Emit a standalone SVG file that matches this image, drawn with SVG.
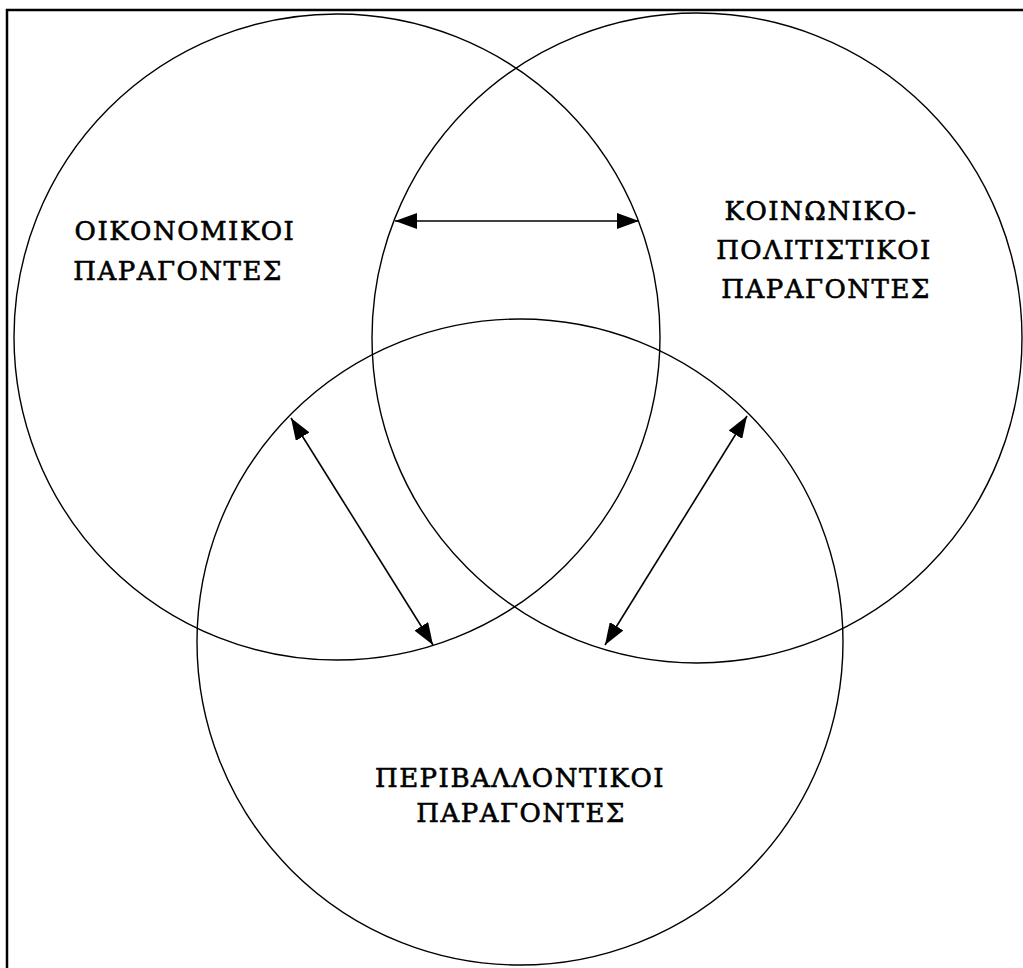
<svg xmlns="http://www.w3.org/2000/svg" width="1023" height="968" viewBox="0 0 1023 968">
<style>
.c{fill:none;stroke:#000;stroke-width:1.4}
.a{fill:none;stroke:#000;stroke-width:1.6;marker-start:url(#h);marker-end:url(#h)}
.t{font-family:"DejaVu Serif","Liberation Serif",serif;font-size:26px;letter-spacing:1.5px;fill:#000;stroke:#000;stroke-width:0.6}
</style>
<defs>
<marker id="h" viewBox="0 0 22 16" refX="22" refY="8" markerWidth="22" markerHeight="16" markerUnits="userSpaceOnUse" orient="auto-start-reverse">
<path d="M0,0 L22,8 L0,16 Z" fill="#000"/>
</marker>
</defs>
<rect width="1023" height="968" fill="#fff"/>
<path d="M7,968 V10 H1023" fill="none" stroke="#000" stroke-width="2.5"/>
<g id="economic">
<circle class="c" cx="337" cy="337" r="323"/>
<text class="t" x="185" y="240" text-anchor="middle">ΟΙΚΟΝΟΜΙΚΟΙ</text>
<text class="t" x="178" y="280" text-anchor="middle">ΠΑΡΑΓΟΝΤΕΣ</text>
</g>
<g id="sociocultural">
<circle class="c" cx="697" cy="338" r="325"/>
<text class="t" x="821" y="220" text-anchor="middle">ΚΟΙΝΩΝΙΚΟ-</text>
<text class="t" x="824" y="259" text-anchor="middle">ΠΟΛΙΤΙΣΤΙΚΟΙ</text>
<text class="t" x="826" y="298" text-anchor="middle">ΠΑΡΑΓΟΝΤΕΣ</text>
</g>
<g id="environmental">
<circle class="c" cx="520" cy="642" r="323"/>
<text class="t" x="520" y="787" text-anchor="middle">ΠΕΡΙΒΑΛΛΟΝΤΙΚΟΙ</text>
<text class="t" x="521" y="822" text-anchor="middle">ΠΑΡΑΓΟΝΤΕΣ</text>
</g>
<g id="connectors">
<line class="a" x1="395" y1="221" x2="639" y2="221"/>
<line class="a" x1="291" y1="418" x2="433" y2="645"/>
<line class="a" x1="747" y1="416" x2="605" y2="645"/>
</g>
</svg>
